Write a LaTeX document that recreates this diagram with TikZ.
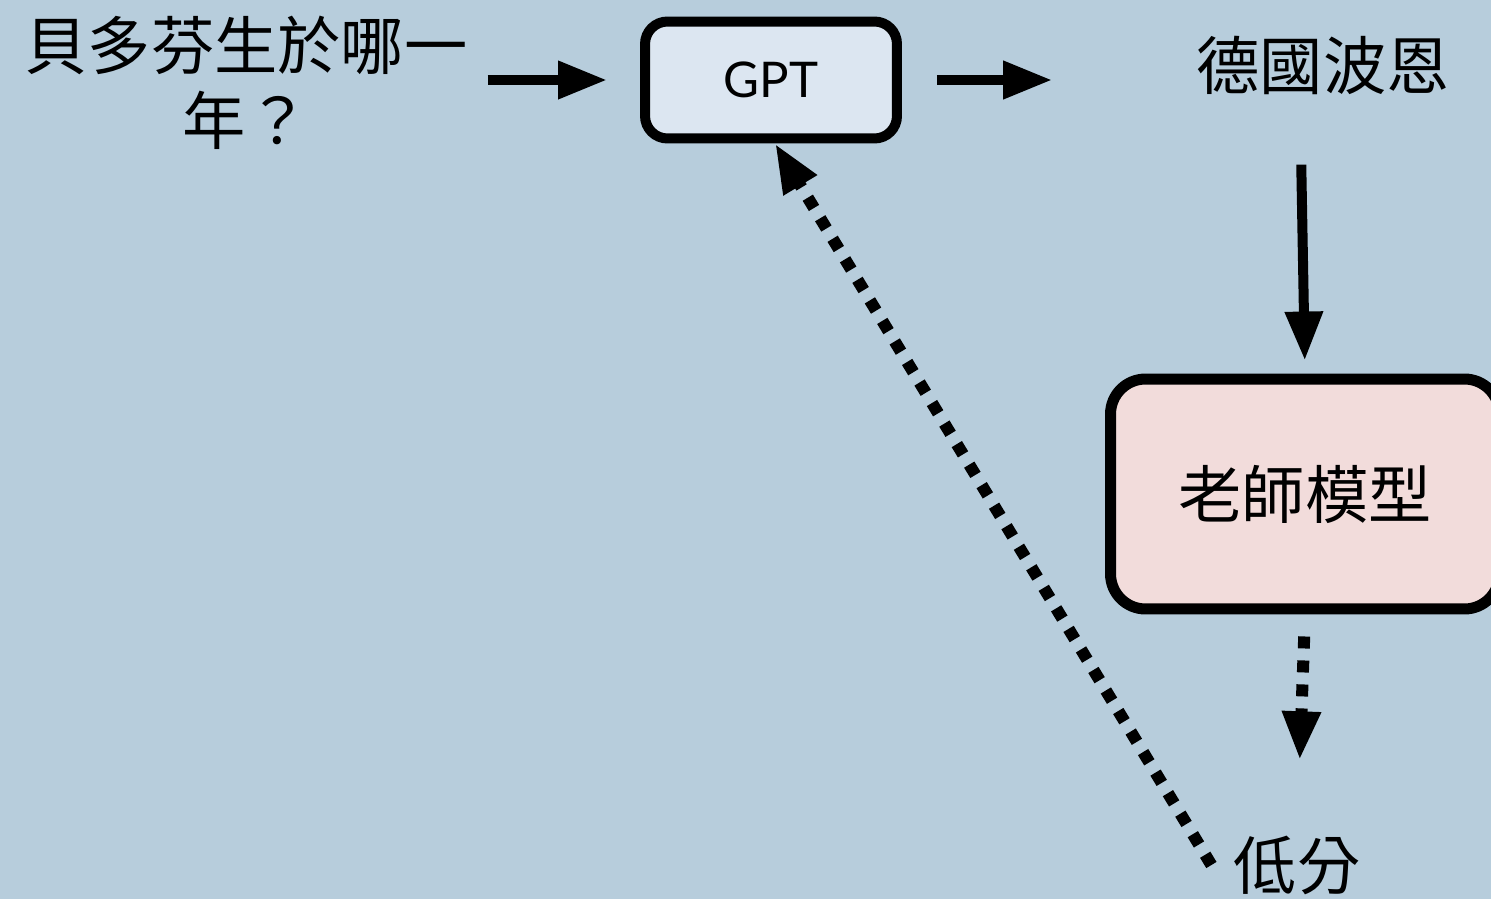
\documentclass[tikz,border=0pt]{standalone}
\usepackage{fontspec}
\setmainfont{Noto Sans CJK TC}
\newfontfamily\latinfont{Lato}
\usetikzlibrary{arrows.meta}

\definecolor{bgblue}{HTML}{B7CDDC}
\definecolor{gptfill}{HTML}{DCE6F1}
\definecolor{teacherfill}{HTML}{F2DCDB}

\begin{document}
\begin{tikzpicture}[x=0.02cm,y=-0.02cm,
    box/.style={draw=black,line width=0.2cm,rounded corners=0.45cm},
    txt/.style={inner sep=0pt,font=\fontsize{36}{43}\selectfont},
    flow/.style={line width=0.2cm,-{Triangle[length=0.98cm,width=0.72cm]}},
    dotflow/.style={flow,line width=0.24cm,dash pattern=on 0.24cm off 0.24cm}]

    \fill[bgblue] (0,0) rectangle (1491,899);
    \useasboundingbox (0,0) rectangle (1491,899);

    \node[txt,align=center] (question) at (246,83) {貝多芬生於哪一\\年？};
    \node[box,fill=gptfill,minimum width=5.04cm,minimum height=2.34cm] (gpt) at (771,80)
        {\latinfont\fontsize{28}{28}\selectfont GPT};
    \node[txt] (bonn) at (1323,65) {德國波恩};
    \node[box,txt,fill=teacherfill,line width=0.22cm,rounded corners=0.7cm,
        minimum width=7.78cm,minimum height=4.6cm] (teacher) at (1305,494) {老師模型};
    \node[txt] (low) at (1297,865) {低分};

    \draw[flow,shorten <=0.4cm,shorten >=0.66cm] (question.east |- gpt.west) -- (gpt.west);
    \draw[flow,shorten <=0.7cm,shorten >=2.88cm] (gpt.east) -- (gpt.east -| bonn.west);
    \draw[flow,shorten <=1.4cm,shorten >=0.26cm] ([xshift=-0.46cm]bonn.south) -- (teacher.north);
    \draw[dotflow,shorten <=0.44cm,shorten >=1.5cm] (teacher.south) -- (low.north);
    \draw[dotflow] ([xshift=-0.44cm]low.west) -- ([xshift=0.08cm]gpt.south);
\end{tikzpicture}
\end{document}
